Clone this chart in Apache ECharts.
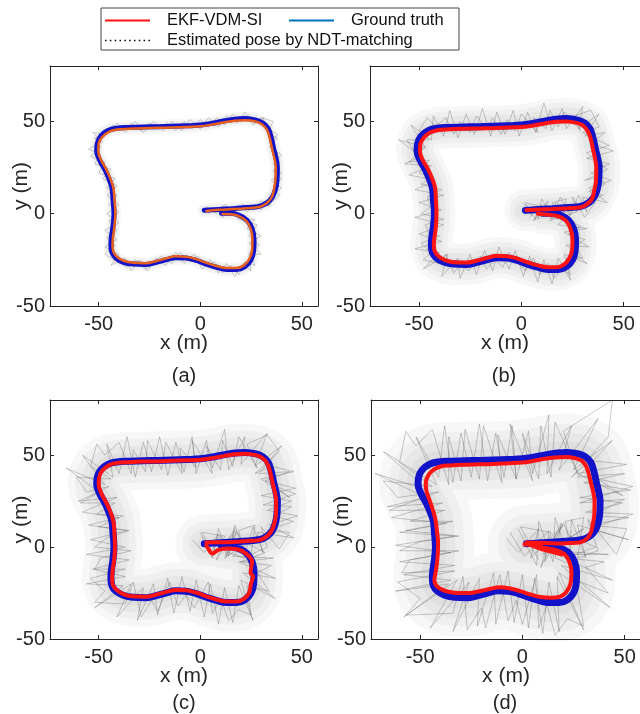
<!DOCTYPE html>
<html>
<head>
<meta charset="utf-8">
<script src="https://cdn.jsdelivr.net/npm/echarts@6/dist/echarts.min.js"></script>
<style>
html, body { margin: 0; padding: 0; background: #fff; }
#main { width: 640px; height: 714px; }
</style>
</head>
<body>
<div id="main"></div>
<script>
var myChart = echarts.init(document.getElementById('main'));

const FONT = '"Liberation Sans", Arial, sans-serif';
const tickValues = [-50, 0, 50];
const panelNames = ['(a)', '(b)', '(c)', '(d)'];

// ground truth trajectory (same in all 4 panels)
const groundTruth = [[2,1.8],[9,2.3],[16,2.7],[23,3.3],[29,4],[33,6],[35.5,9],[37,13],[37.8,18],[38,25],[37.3,30],[36.2,35],[35,41],[33.5,46],[31,49],[27.5,50.7],[22,51.5],[17,51.2],[12,50.3],[6,49],[0,48],[-7,47.6],[-14,47.3],[-21,47.1],[-28,47],[-35,46.7],[-41,46.3],[-45.5,45],[-49,42],[-50.7,38],[-51,34],[-49.5,29],[-47,24],[-45,19],[-43.5,14],[-43,8],[-42.5,0],[-43,-7],[-43.8,-13],[-44,-17],[-43.5,-21],[-41.5,-24],[-38,-26.2],[-33,-27.3],[-27,-27.5],[-22,-26.5],[-17,-25],[-12,-23.8],[-7,-24],[-2,-25.3],[3,-27.3],[8,-29],[13,-30.2],[18,-30.2],[22,-28.7],[25,-25],[26.3,-20],[26.5,-14],[25.5,-8],[23,-3.5],[19,-0.8],[15,0.2],[10.5,0.3]];

// EKF-VDM-SI estimates
const ekfA = [[3,1.5],[9,2.1],[16,2.5],[23,3],[29,3.6],[32.5,5.5],[35,8.5],[36.3,13],[37,18],[37.2,25],[36.5,30],[35.4,35],[34.2,41],[32.8,45.5],[30.5,48.3],[27.3,49.9],[22,50.6],[17,50.4],[12,49.5],[6,48.3],[0,47.3],[-7,47],[-14,46.7],[-21,46.5],[-28,46.3],[-35,46],[-41,45.6],[-45,44.3],[-48.3,41.5],[-50,38],[-50.2,34],[-48.8,29],[-46.3,24],[-44.3,19],[-42.8,14],[-42.3,8],[-41.8,0],[-42.3,-7],[-43,-13],[-43.2,-17],[-42.8,-20.5],[-41,-23.3],[-37.7,-25.5],[-33,-26.6],[-27,-26.8],[-22,-25.8],[-17,-24.3],[-12,-23.1],[-7,-23.3],[-2,-24.6],[3,-26.6],[8,-28.3],[13,-29.4],[18,-29.4],[21.5,-28],[24.2,-24.5],[25.5,-20],[25.7,-14],[24.8,-8],[22.5,-3.8],[18.7,-1.2],[15,-0.3],[11,-0.2]];
const ekfB = [[2.5,2],[9,2.3],[16,2.5],[23,3],[28.5,3.3],[32,5],[34.5,8],[35.7,13],[36.5,18],[36.6,25],[36,30],[35,35],[33.8,41],[32.3,45],[30,47.8],[27,49.2],[22,50],[17,49.8],[12,49],[6,47.8],[0,47],[-7,46.7],[-14,46.3],[-21,46.2],[-28,46],[-35,45.7],[-41,45.2],[-44.8,43.8],[-47.8,41],[-49.4,37.5],[-49.6,34],[-48.2,29],[-45.6,24],[-43.6,19],[-42.2,14],[-41.8,8],[-41.5,0],[-41.8,-7],[-42.5,-13],[-42.8,-17],[-42.3,-20.5],[-40.5,-23],[-37.3,-25.2],[-33,-26.3],[-27,-26.5],[-22,-25.5],[-17,-24],[-12,-22.8],[-7,-23],[-2,-24.3],[3,-26.3],[8,-28],[13,-29],[17.5,-29],[21,-27.5],[23.5,-24],[24.8,-19.5],[25,-14],[24,-8],[21.5,-3.5],[17.5,-1.2],[13,-0.5],[8,0]];
const ekfC = [[3,2.5],[9,2.6],[16,2.8],[23,3.3],[29,3.8],[32.8,5.8],[35.2,9],[36.5,13],[37.3,18],[37.4,25],[36.7,30],[35.6,35],[34.4,41],[33,45.5],[30.7,48.4],[27.4,50],[22,50.8],[17,50.5],[12,49.6],[6,48.4],[0,47.5],[-7,47.2],[-14,46.9],[-21,46.6],[-28,46.5],[-35,46.2],[-41,45.8],[-45,44.5],[-48.2,41.6],[-49.8,38],[-50,34],[-48.6,29],[-46.2,24],[-44.2,19],[-42.8,14],[-42.3,8],[-42,0],[-42.4,-7],[-43.2,-13],[-43.4,-17],[-43,-20.7],[-41,-23.5],[-37.6,-25.7],[-33,-26.8],[-27,-27],[-22,-26],[-17,-24.5],[-12,-23.3],[-7,-23.5],[-2,-24.8],[3,-26.8],[8,-28.5],[13,-29.6],[18,-29.6],[21.5,-28.2],[24,-25],[25,-20],[26,-16],[24.8,-14],[25.5,-8],[22.8,-3.8],[18.8,-1.3],[14,-0.8],[9,-1.5],[6,-3.5],[4,-1],[3,1]];
const ekfD = [[2,2.5],[9,2.3],[16,2],[23,2.2],[28,2.5],[31.5,4.5],[33.5,8],[34.5,13],[35.2,18],[35.3,25],[34.6,30],[33.5,35],[32.4,40],[31.2,44],[29,47],[26,48.3],[21,49],[16,48.7],[11,48],[5,46.8],[0,46],[-7,45.6],[-14,45.2],[-21,45],[-28,44.8],[-35,44.4],[-40,43.8],[-43.5,42],[-46,39],[-47.2,35],[-47,31],[-45.5,26],[-44,21],[-42.5,15],[-41.8,9],[-41.2,2],[-41.5,-6],[-42.3,-13],[-43,-18],[-42,-21],[-39.5,-23],[-36,-24.3],[-31,-25],[-26,-25],[-21,-24],[-16,-22.8],[-11,-21.8],[-6,-22.5],[-1,-24],[4,-25.8],[9,-27.2],[14,-27.6],[18.5,-27],[21.5,-24.5],[23.5,-20],[24,-14],[23,-8],[20.5,-3.8],[16,-1.5],[11,-0.5],[6,1],[2,2],[8,-0.5],[14,-2.5],[19,-4],[14,-1.5],[7,0.5],[1,1.5]];

// NDT-matching pose estimates (two passes read per panel)
const ndtA = [[3,4],[8,0],[12,5],[17,1],[21,5],[26,2],[30,7],[34,4],[36,10],[40,14],[35,18],[40,22],[36,27],[40,32],[34,36],[38,41],[33,44],[36,50],[30,52],[26,48],[22,55],[18,49],[13,53],[9,47],[4,52],[0,46],[-5,51],[-9,45],[-14,50],[-18,45],[-23,50],[-28,44],[-32,50],[-37,44],[-41,49],[-46,43],[-53,44],[-48,39],[-55,35],[-49,32],[-52,27],[-44,24],[-48,19],[-41,15],[-46,10],[-40,5],[-46,0],[-40,-5],[-47,-9],[-41,-14],[-47,-18],[-40,-22],[-44,-28],[-37,-24],[-34,-31],[-30,-25],[-26,-31],[-22,-24],[-17,-28],[-12,-21],[-8,-27],[-3,-22],[1,-30],[5,-25],[9,-32],[13,-27],[17,-34],[21,-27],[25,-31],[24,-22],[30,-22],[24,-16],[30,-12],[23,-8],[27,-3],[19,-3],[16,3],[11,-2],[9,2]];
const ndtA2 = [[4,0],[6,3],[10,1],[13,4],[16,0],[20,4],[23,1],[27,5],[30,2],[34,7],[33,4],[39,10],[36,15],[40,19],[36,23],[39,28],[38,33],[35,38],[38,43],[32,47],[31,52],[27,49],[24,53],[20,50],[16,54],[12,48],[8,52],[4,47],[0,51],[-4,46],[-8,50],[-12,45],[-16,49],[-20,46],[-25,49],[-29,45],[-34,49],[-38,45],[-43,48],[-47,42],[-52,41],[-49,36],[-54,31],[-47,28],[-50,22],[-42,19],[-46,14],[-41,10],[-45,5],[-40,1],[-45,-4],[-41,-9],[-46,-13],[-42,-17],[-47,-22],[-41,-26],[-36,-29],[-32,-25],[-27,-30],[-23,-26],[-19,-23],[-14,-27],[-10,-21],[-5,-26],[-1,-23],[3,-29],[7,-26],[11,-32],[15,-28],[19,-33],[22,-26],[27,-28],[24,-21],[29,-17],[24,-12],[28,-6],[21,-4],[17,2],[13,-1]];
const ndtB = [[1,6],[7,-3],[10,8],[15,-2],[19,9],[24,-1],[28,10],[32,1],[30,9],[42,6],[33,14],[44,18],[34,22],[43,27],[32,30],[45,34],[34,38],[41,44],[31,42],[38,54],[28,46],[30,58],[22,46],[20,57],[15,45],[11,60],[7,44],[3,55],[-1,42],[-4,56],[-8,43],[-12,55],[-15,42],[-19,57],[-23,43],[-27,54],[-31,41],[-35,56],[-38,42],[-43,53],[-44,40],[-54,48],[-47,36],[-60,40],[-49,31],[-57,27],[-44,26],[-55,21],[-42,18],[-52,13],[-38,10],[-50,6],[-39,2],[-52,-2],[-38,-6],[-50,-11],[-39,-15],[-52,-19],[-40,-21],[-48,-30],[-36,-22],[-39,-34],[-31,-24],[-30,-35],[-25,-22],[-22,-33],[-18,-20],[-14,-31],[-11,-18],[-6,-30],[-3,-20],[1,-34],[4,-23],[8,-37],[11,-25],[15,-38],[18,-24],[24,-36],[21,-22],[32,-27],[22,-17],[33,-18],[21,-10],[32,-8],[18,-6],[26,3],[14,-4],[17,6],[8,-3],[10,5],[4,-2]];
const ndtB2 = [[5,-1],[2,6],[9,4],[6,-4],[13,7],[11,0],[18,-3],[15,6],[22,8],[20,-2],[27,1],[25,9],[31,-2],[36,6],[30,5],[40,10],[33,12],[41,16],[38,20],[31,18],[42,24],[36,29],[40,26],[32,33],[43,37],[37,40],[30,44],[38,47],[34,56],[26,53],[29,45],[21,55],[18,47],[14,56],[12,46],[6,52],[8,44],[0,54],[-3,45],[-7,51],[-10,43],[-14,52],[-17,46],[-22,53],[-25,44],[-30,50],[-33,43],[-37,52],[-42,47],[-46,52],[-50,45],[-45,40],[-56,40],[-52,33],[-47,36],[-55,28],[-45,29],[-50,22],[-43,20],[-49,16],[-39,13],[-46,9],[-44,4],[-49,0],[-38,-3],[-47,-6],[-45,-11],[-40,-12],[-49,-16],[-44,-21],[-48,-25],[-40,-27],[-37,-22],[-33,-32],[-29,-27],[-26,-31],[-20,-23],[-17,-30],[-13,-25],[-9,-29],[-6,-21],[-1,-27],[2,-31],[6,-24],[9,-33],[13,-27],[16,-35],[20,-30],[24,-33],[22,-24],[30,-24],[26,-18],[31,-14],[23,-11],[29,-7],[22,-3],[20,3],[15,-3],[12,3],[8,-2]];
const ndtC = [[0,8],[6,-6],[9,10],[14,-5],[17,12],[22,-4],[26,11],[31,-3],[28,8],[46,5],[34,12],[48,17],[33,20],[45,25],[30,28],[47,32],[32,36],[44,41],[29,40],[40,55],[27,44],[33,62],[20,45],[22,60],[14,42],[12,64],[6,43],[3,58],[-2,40],[-4,60],[-8,41],[-12,57],[-16,39],[-20,60],[-24,41],[-28,57],[-32,38],[-36,60],[-40,40],[-46,56],[-43,38],[-58,50],[-47,34],[-66,43],[-50,30],[-60,25],[-41,27],[-58,19],[-40,16],[-55,12],[-36,9],[-54,4],[-37,0],[-56,-4],[-35,-7],[-53,-12],[-37,-16],[-56,-20],[-38,-21],[-52,-33],[-34,-20],[-41,-38],[-28,-22],[-31,-40],[-23,-20],[-21,-37],[-16,-17],[-13,-36],[-9,-16],[-5,-35],[-2,-18],[2,-38],[5,-20],[9,-42],[12,-22],[16,-41],[19,-21],[26,-40],[20,-18],[37,-28],[21,-14],[37,-17],[19,-8],[36,-6],[16,-5],[28,6],[12,-6],[18,9],[6,-5],[9,7],[2,-3],[-4,4]];
const ndtC2 = [[6,-4],[1,8],[12,6],[8,-7],[17,10],[14,-3],[22,-6],[19,9],[27,12],[25,-4],[33,0],[30,11],[39,-1],[44,8],[33,9],[46,14],[36,17],[45,22],[31,23],[47,29],[37,33],[44,27],[30,37],[46,41],[35,44],[27,40],[39,52],[33,61],[23,56],[28,43],[19,60],[16,44],[11,58],[10,42],[3,55],[6,40],[-4,58],[-2,43],[-10,54],[-9,40],[-17,57],[-19,42],[-26,58],[-27,41],[-33,53],[-34,40],[-40,57],[-47,50],[-51,56],[-54,44],[-44,37],[-61,38],[-56,30],[-45,33],[-59,24],[-42,24],[-51,18],[-38,17],[-50,11],[-35,9],[-46,5],[-52,0],[-34,-2],[-49,-6],[-52,-12],[-37,-12],[-54,-17],[-47,-24],[-52,-30],[-37,-31],[-33,-19],[-29,-38],[-24,-29],[-21,-35],[-15,-19],[-11,-32],[-7,-26],[-3,-33],[4,-19],[6,-36],[10,-28],[14,-40],[19,-34],[25,-37],[23,-21],[34,-24],[28,-14],[35,-10],[20,-8],[32,-3],[21,3],[18,8],[13,-5],[10,6],[5,-3]];
const ndtD = [[-2,10],[7,-10],[8,14],[15,-8],[16,16],[23,-7],[24,15],[31,-6],[27,12],[52,4],[33,10],[54,18],[31,19],[49,24],[28,27],[53,31],[30,35],[50,40],[27,38],[44,58],[25,42],[37,70],[18,42],[24,66],[12,40],[13,72],[5,40],[3,63],[-3,37],[-5,66],[-9,38],[-13,62],[-17,36],[-21,67],[-25,38],[-30,62],[-34,35],[-38,66],[-41,38],[-52,60],[-42,34],[-68,52],[-46,31],[-72,40],[-47,27],[-66,22],[-39,24],[-64,16],[-37,13],[-60,8],[-33,6],[-62,1],[-35,-3],[-60,-8],[-33,-10],[-58,-15],[-35,-18],[-62,-24],[-36,-20],[-58,-38],[-32,-18],[-45,-44],[-26,-19],[-34,-46],[-21,-17],[-22,-43],[-14,-14],[-13,-42],[-7,-13],[-4,-41],[0,-15],[3,-44],[6,-17],[10,-47],[13,-19],[18,-46],[17,-16],[30,-45],[18,-14],[43,-33],[19,-10],[44,-18],[17,-4],[42,-4],[14,-2],[30,10],[10,-4],[20,12],[4,-6],[8,10],[-2,-3],[-8,5]];
const ndtD2 = [[8,-7],[-1,11],[14,8],[9,-11],[19,13],[16,-6],[25,-10],[21,14],[30,16],[27,-6],[37,-2],[32,15],[46,-4],[51,10],[33,12],[52,16],[34,17],[50,26],[28,24],[54,33],[37,37],[49,28],[27,40],[51,45],[33,47],[24,38],[42,60],[44,80],[20,63],[27,40],[16,68],[14,38],[9,66],[8,37],[0,62],[5,36],[-6,67],[-3,37],[-12,61],[-10,35],[-19,66],[-21,37],[-28,64],[-30,36],[-36,60],[-36,34],[-44,64],[-52,55],[-57,63],[-60,46],[-44,33],[-68,36],[-61,27],[-41,30],[-65,20],[-38,20],[-55,14],[-34,14],[-57,9],[-31,6],[-50,3],[-60,-2],[-31,-2],[-55,-7],[-59,-14],[-33,-13],[-61,-19],[-50,-28],[-57,-37],[-34,-36],[-29,-16],[-27,-45],[-20,-33],[-18,-44],[-11,-15],[-7,-40],[-3,-29],[0,-42],[7,-15],[8,-44],[12,-31],[16,-48],[22,-39],[30,-43],[26,-18],[42,-25],[31,-11],[40,-8],[21,-6],[36,0],[23,6],[20,13],[11,-8],[13,9],[1,-5],[-6,8]];

const ekfList = [ekfA, ekfB, ekfC, ekfD];
const ndtList = [[ndtA, ndtA2], [ndtB, ndtB2], [ndtC, ndtC2], [ndtD, ndtD2]];

// layout of the four panels
const grids = [
    { left: 50, top: 66, width: 268, height: 240 },
    { left: 370, top: 66, width: 270, height: 240 },
    { left: 50, top: 400, width: 268, height: 239 },
    { left: 371, top: 400, width: 270, height: 239 }
];
const hazeWidths = [[14, 10, 6], [42, 32, 22, 12], [58, 44, 30, 16], [78, 58, 40, 22]];
const gtWidth = [5, 7, 7, 7];
const ekfWidth = [2.5, 4, 4, 4];
const ekfColor = ['#e8601c', '#ff1414', '#ff1414', '#ff1414'];
const labelOffset = [70, 70, 64, 64];

const axisColor = '#262626';

function makeX(i, pos) {
    return {
        type: 'value', gridIndex: i, position: pos, min: -74, max: 58,
        axisLine: { show: true, onZero: false, lineStyle: { color: axisColor, width: 1 } },
        axisTick: { show: true, inside: true, length: 4, customValues: tickValues, lineStyle: { color: axisColor } },
        axisLabel: { show: pos === 'bottom', customValues: tickValues, margin: 8, fontSize: 20, fontFamily: FONT, color: axisColor },
        splitLine: { show: false },
        name: pos === 'bottom' ? 'x (m)' : '',
        nameLocation: 'middle', nameGap: 27, nameMoveOverlap: false,
        nameTextStyle: { fontSize: 21, fontFamily: FONT, color: axisColor }
    };
}
function makeY(i, pos) {
    return {
        type: 'value', gridIndex: i, position: pos, min: -50, max: 80,
        axisLine: { show: true, onZero: false, lineStyle: { color: axisColor, width: 1 } },
        axisTick: { show: true, inside: true, length: 4, customValues: tickValues, lineStyle: { color: axisColor } },
        axisLabel: { show: pos === 'left', customValues: tickValues, margin: 5, fontSize: 20, fontFamily: FONT, color: axisColor },
        splitLine: { show: false },
        name: pos === 'left' ? 'y (m)' : '',
        nameLocation: 'middle', nameGap: 18, nameMoveOverlap: false,
        nameTextStyle: { fontSize: 21, fontFamily: FONT, color: axisColor }
    };
}

const xAxes = [], yAxes = [], series = [], graphics = [];
for (let i = 0; i < 4; i++) {
    xAxes.push(makeX(i, 'bottom'));
    yAxes.push(makeY(i, 'left'));
}
for (let i = 0; i < 4; i++) {
    xAxes.push(makeX(i, 'top'));
    yAxes.push(makeY(i, 'right'));
}

for (let i = 0; i < 4; i++) {
    hazeWidths[i].forEach(w => {
        series.push({
            name: 'haze', type: 'line', xAxisIndex: i, yAxisIndex: i,
            data: groundTruth, smooth: 0.4, symbol: 'none', silent: true,
            lineStyle: { color: 'rgba(0,0,0,0.03)', width: w, cap: 'round', join: 'round' }
        });
    });
    ndtList[i].forEach(d => {
        series.push({
            name: 'Estimated pose by NDT-matching', type: 'line', xAxisIndex: i, yAxisIndex: i,
            data: d, symbol: 'none', silent: true,
            lineStyle: { color: 'rgba(40,40,40,0.4)', width: 0.6 }
        });
    });
    series.push({
        name: 'Ground truth', type: 'line', xAxisIndex: i, yAxisIndex: i,
        data: groundTruth, smooth: 0.4, symbol: 'none', silent: true,
        lineStyle: { color: '#1212c8', width: gtWidth[i], cap: 'round', join: 'round' }
    });
    series.push({
        name: 'EKF-VDM-SI', type: 'line', xAxisIndex: i, yAxisIndex: i,
        data: ekfList[i], smooth: 0.4, symbol: 'none', silent: true,
        lineStyle: { color: ekfColor[i], width: ekfWidth[i], cap: 'round', join: 'round' }
    });
    const g = grids[i];
    graphics.push({
        type: 'text', x: g.left + g.width / 2 - (i % 2 ? 1 : 0), y: g.top + g.height + labelOffset[i],
        style: { text: panelNames[i], font: '20px ' + FONT, fill: axisColor, align: 'center', verticalAlign: 'middle' }
    });
}

// legend box
graphics.push({
    type: 'rect', shape: { x: 101, y: 8, width: 358, height: 42 },
    style: { fill: 'none', stroke: '#444', lineWidth: 1 }, z: -1
});

const legendText = { fontSize: 16.5, fontFamily: FONT, color: '#111', padding: [0, 0, 0, 12] };
const dotIcon = 'path://M0,0h1v1h-1zM3,0h1v1h-1zM6,0h1v1h-1zM9,0h1v1h-1zM12,0h1v1h-1zM15,0h1v1h-1zM18,0h1v1h-1zM21,0h1v1h-1zM24,0h1v1h-1zM27,0h1v1h-1z';

option = {
    animation: false,
    backgroundColor: '#fff',
    grid: grids.map(g => Object.assign({ outerBoundsMode: 'none', containLabel: false }, g)),
    xAxis: xAxes,
    yAxis: yAxes,
    legend: [
        {
            left: 105, top: 12, padding: 0, itemWidth: 45, itemHeight: 2, selectedMode: false,
            data: [{ name: 'EKF-VDM-SI', icon: 'rect', itemStyle: { color: '#ff1414', borderWidth: 0 } }],
            textStyle: legendText
        },
        {
            left: 289, top: 12, padding: 0, itemWidth: 45, itemHeight: 2, selectedMode: false,
            data: [{ name: 'Ground truth', icon: 'rect', itemStyle: { color: '#0072bd', borderWidth: 0 } }],
            textStyle: legendText
        },
        {
            left: 105, top: 32, padding: 0, itemWidth: 45, itemHeight: 2, selectedMode: false,
            data: [{ name: 'Estimated pose by NDT-matching', icon: dotIcon, itemStyle: { color: '#111', borderWidth: 0 } }],
            textStyle: legendText
        }
    ],
    graphic: graphics,
    series: series
};

myChart.setOption(option);
</script>
</body>
</html>
